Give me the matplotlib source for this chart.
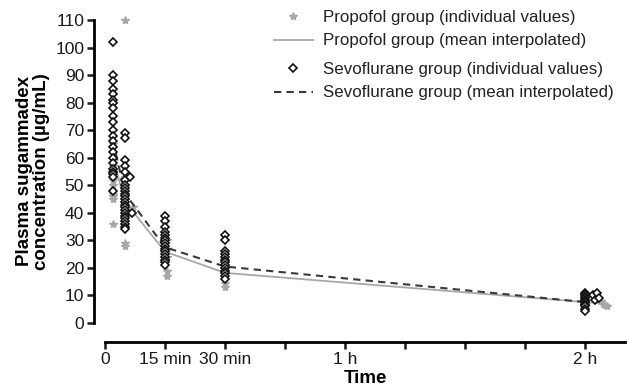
import matplotlib
matplotlib.use("Agg")
import matplotlib.pyplot as plt
from matplotlib.lines import Line2D

plt.rcParams['font.family'] = ['Liberation Sans', 'DejaVu Sans']

# ---- data (minutes, µg/mL) ----
sevo_t2 = [102, 90, 88, 85, 83, 81, 80, 78, 75, 73, 70, 68, 66, 64, 62, 60, 58, 56, 55, 54, 53, 48]
sevo_t5 = [69, 67, 59, 57, 55, 52, 50, 49, 48, 47, 46, 45, 44, 43, 42, 41, 40, 39, 38, 37, 36, 35, 34]
sevo_t5_late_time = [6.3, 6.8]
sevo_t5_late = [53, 40]
sevo_t15 = [39, 37, 35, 33, 32, 31, 30, 29, 28, 27, 26, 25, 24, 23, 22, 21]
sevo_t30 = [32, 30, 26, 25, 24, 23, 22, 21, 20, 19, 18, 17, 16]
sevo_t120 = [11, 10.5, 10, 9.5, 9, 8.5, 8, 7.5, 7, 6.5, 6, 5, 4.5]
sevo_t120_late_time = [122, 122.5, 123, 123.5]
sevo_t120_late = [10, 8.5, 11, 9]

prop_t2 = [80, 65, 60, 57, 55, 52, 50, 47, 46, 45, 36]
prop_t5 = [110, 55, 53, 50, 45, 29, 28]
prop_t5_late_time = [7.0]
prop_t5_late = [42]
prop_t15 = [30, 27, 24, 19, 17]
prop_t30 = [22, 19, 14.5, 13]
prop_t125_time = [124, 124.5, 125, 125.5]
prop_t125 = [8, 7, 6.5, 6]

mean_time_sevo = [2, 5, 15, 30, 120]
mean_sevo = [66, 47, 27.5, 20.5, 7.6]
mean_time_prop = [2, 5, 15, 30, 125]
mean_prop = [60, 44, 25.9, 18.2, 7.0]

xtick_pos = [0, 15, 30, 45, 60, 75, 90, 105, 120]
xtick_labels = ['0', '15 min', '30 min', '', '1 h', '', '', '', '2 h']

# ---- figure ----
W, H = 627, 387
fig = plt.figure(figsize=(W / 100, H / 100), dpi=100)
ax = fig.add_axes([105 / W, 64 / H, 520 / W, 303 / H])

gray = '#a8a8a8'
dark = '#3a3a3a'
ms_d = 3.8

# mean lines
ax.plot(mean_time_prop, mean_prop, color=gray, lw=1.3, zorder=2, clip_on=False)
ax.plot(mean_time_sevo, mean_sevo, color=dark, lw=1.5, ls=(0, (3.5, 2.5)), zorder=3, clip_on=False)


def prop_pts(t, vals):
    ts = t if isinstance(t, list) else [t] * len(vals)
    ax.plot(ts, vals, ls='none', marker='*', ms=6, color=gray, mec=gray, zorder=2, clip_on=False)


def sevo_pts(t, vals):
    ts = t if isinstance(t, list) else [t] * len(vals)
    ax.plot(ts, vals, ls='none', marker='D', ms=ms_d, mfc='white', mec='#111111', mew=1.2,
            zorder=4, clip_on=False)


prop_pts(2, prop_t2)
prop_pts(5, prop_t5)
prop_pts(prop_t5_late_time, prop_t5_late)
prop_pts(15.5, prop_t15)
prop_pts(30, prop_t30)
prop_pts(prop_t125_time, prop_t125)

sevo_pts(2, sevo_t2)
sevo_pts(5, sevo_t5)
sevo_pts(sevo_t5_late_time, sevo_t5_late)
sevo_pts(15, sevo_t15)
sevo_pts(30, sevo_t30)
sevo_pts(120, sevo_t120)
sevo_pts(sevo_t120_late_time, sevo_t120_late)

# axes styling (Prism-like detached axes)
ax.set_xlim(0, 130)
ax.set_ylim(0, 110)
for s in ['top', 'right']:
    ax.spines[s].set_visible(False)
ax.spines['left'].set_position(('outward', 8))
ax.spines['bottom'].set_position(('outward', 14))
ax.spines['left'].set_linewidth(2)
ax.spines['bottom'].set_linewidth(2)
ax.set_yticks(range(0, 111, 10))
ax.set_xticks(xtick_pos)
ax.set_xticklabels(xtick_labels)
ax.tick_params(axis='both', width=1.8, length=5, labelsize=12.5, colors='#1a1a1a', pad=2)
ax.tick_params(axis='x', pad=2)

ax.set_xlabel('Time', fontsize=13.5, fontweight='bold', labelpad=2)
ax.set_ylabel('Plasma sugammadex\nconcentration (µg/mL)', fontsize=13.5, fontweight='bold',
              labelpad=4, linespacing=1.0)

handles1 = [
    Line2D([], [], ls='none', marker='*', ms=6, color=gray),
    Line2D([], [], color=gray, lw=1.3),
]
handles2 = [
    Line2D([], [], ls='none', marker='D', ms=ms_d, mfc='white', mec='#111111', mew=1.2),
    Line2D([], [], color=dark, lw=1.5, ls=(0, (3.5, 2.5))),
]
labels1 = ['Propofol group (individual values)', 'Propofol group (mean interpolated)']
labels2 = ['Sevoflurane group (individual values)', 'Sevoflurane group (mean interpolated)']
kw = dict(loc='upper left', bbox_transform=fig.transFigure, frameon=False, fontsize=12.2,
          handlelength=2.3, handletextpad=0.6, labelspacing=0.5, borderaxespad=0, borderpad=0)
leg1 = ax.legend(handles1, labels1, bbox_to_anchor=(274 / W, 1 - 10 / H), **kw)
ax.add_artist(leg1)
leg2 = ax.legend(handles2, labels2, bbox_to_anchor=(274 / W, 1 - 62 / H), **kw)
for lg in (leg1, leg2):
    for t in lg.get_texts():
        t.set_color('#222222')

fig.savefig('out.png', dpi=100)
